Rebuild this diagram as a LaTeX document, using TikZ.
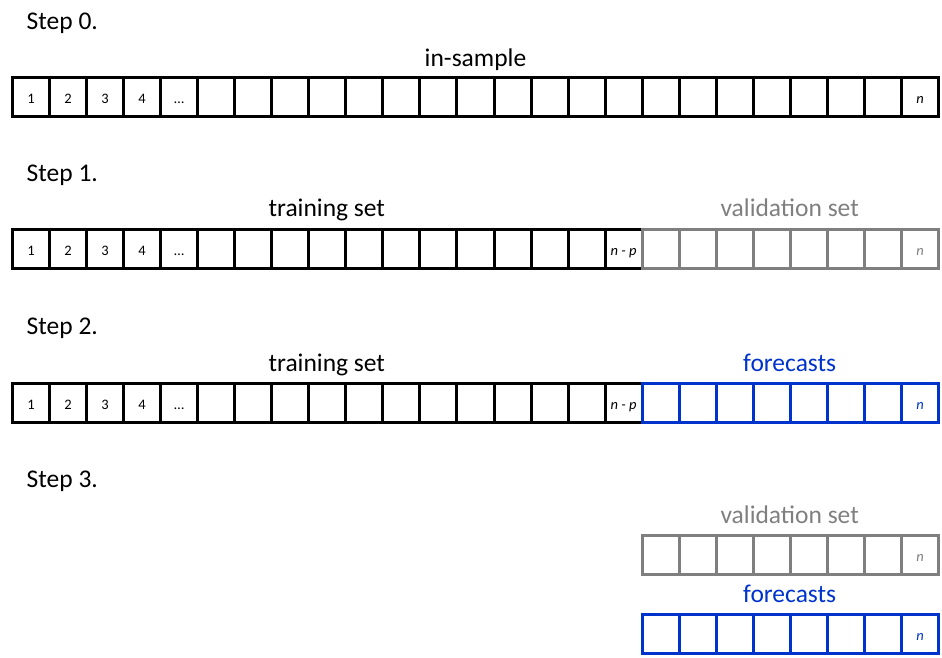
\documentclass[tikz,border=0pt]{standalone}
\usepackage{fontspec}
\setmainfont{Carlito}
\definecolor{valgray}{RGB}{127,127,127}
\definecolor{fcblue}{RGB}{0,51,204}
% labels of the leading cells of a series
\newcommand\seqtext[1]{\ifcase#1\or 1\or 2\or 3\or 4\or …\fi}
\tikzset{
  cell/.style={draw, line width=3bp, minimum width=37.04bp, minimum height=39bp,
    inner sep=0pt, outer sep=0pt, text height=12.6bp, text depth=0pt,
    font=\fontsize{14.5bp}{16bp}\selectfont},
  obscell/.style={cell, draw=black},
  valcell/.style={cell, draw=valgray, text=valgray},
  fccell/.style={cell, draw=fcblue, text=fcblue},
  steplabel/.style={anchor=base west, inner sep=0pt, font=\fontsize{25.5bp}{30bp}\selectfont},
  setlabel/.style={anchor=base, inner sep=0pt, font=\fontsize{25.5bp}{30bp}\selectfont},
}
\begin{document}
\begin{tikzpicture}[x=1bp, y=-1bp]
  \useasboundingbox (0,0) rectangle (942,658);

  % Step 0: the whole in-sample series
  \node[steplabel] (step0) at (26.5,30) {Step 0.};
  \node[setlabel] (insample) at (475.5,66.7) {in-sample};
  \foreach \i in {1,...,24}
    \node[obscell] (s0c\i) at ({12.5+(\i-0.5)*37.04},97.2) {\seqtext{\i}};
  \node[obscell] (s0c25) at ({12.5+24.5*37.04},97.2) {\textit{n}};

  % Step 1: training and validation split
  \node[steplabel] (step1) at (26.5,181.7) {Step 1.};
  \node[setlabel] (train1) at (326.8,216.7) {training set};
  \node[setlabel, text=valgray] (valid1) at (789.7,216.7) {validation set};
  \foreach \i in {1,...,16}
    \node[obscell] (s1c\i) at ({12.5+(\i-0.5)*37.04},248.9) {\seqtext{\i}};
  \node[obscell] (s1c17) at ({12.5+16.5*37.04},248.9) {\textit{n - p}};
  \foreach \i in {18,...,24}
    \node[valcell] (s1c\i) at ({12.5+(\i-0.5)*37.04},248.9) {};
  \node[valcell] (s1c25) at ({12.5+24.5*37.04},248.9) {\textit{n}};

  % Step 2: forecasts over the validation horizon
  \node[steplabel] (step2) at (26.5,334) {Step 2.};
  \node[setlabel] (train2) at (326.8,371) {training set};
  \node[setlabel, text=fcblue] (fc2) at (789.7,371) {forecasts};
  \foreach \i in {1,...,16}
    \node[obscell] (s2c\i) at ({12.5+(\i-0.5)*37.04},402.9) {\seqtext{\i}};
  \node[obscell] (s2c17) at ({12.5+16.5*37.04},402.9) {\textit{n - p}};
  \foreach \i in {18,...,24}
    \node[fccell] (s2c\i) at ({12.5+(\i-0.5)*37.04},402.9) {};
  \node[fccell] (s2c25) at ({12.5+24.5*37.04},402.9) {\textit{n}};

  % Step 3: validation set against forecasts
  \node[steplabel] (step3) at (26.5,487.7) {Step 3.};
  \node[setlabel, text=valgray] (valid3) at (789.7,523.5) {validation set};
  \foreach \i in {18,...,24}
    \node[valcell] (s3v\i) at ({12.5+(\i-0.5)*37.04},554.7) {};
  \node[valcell] (s3v25) at ({12.5+24.5*37.04},554.7) {\textit{n}};
  \node[setlabel, text=fcblue] (fc3) at (789.7,602.7) {forecasts};
  \foreach \i in {18,...,24}
    \node[fccell] (s3f\i) at ({12.5+(\i-0.5)*37.04},634.3) {};
  \node[fccell] (s3f25) at ({12.5+24.5*37.04},634.3) {\textit{n}};
\end{tikzpicture}
\end{document}
